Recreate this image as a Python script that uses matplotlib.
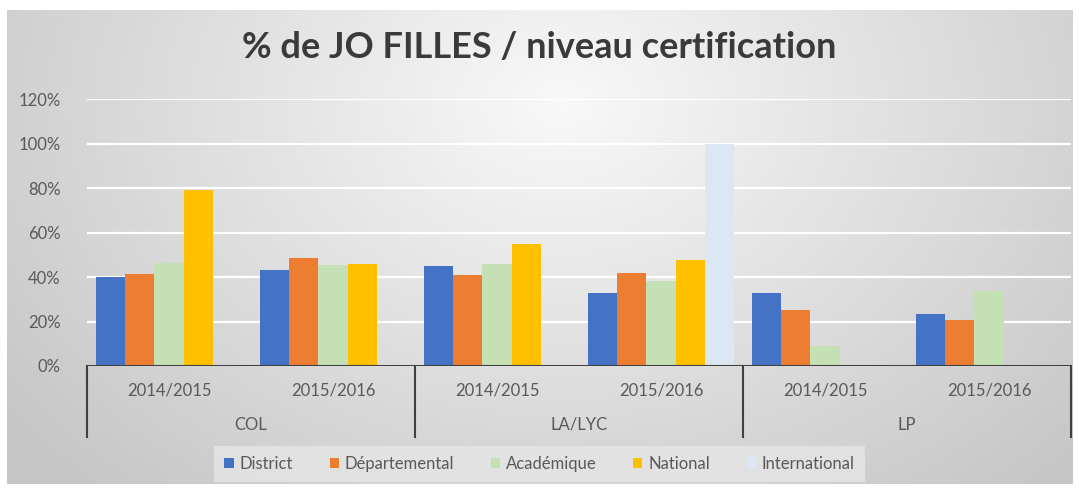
import numpy as np
import matplotlib.pyplot as plt

plt.rcParams['font.family'] = ['Lato', 'DejaVu Sans']

groups = ['COL', 'LA/LYC', 'LP']
years = ['2014/2015', '2015/2016']
series = ['District', 'Départemental', 'Académique', 'National', 'International']
colors = ['#4472c4', '#ed7d31', '#c5e0b4', '#ffc000', '#dce7f4']

# one value per (group, year) in order COL14, COL15, LA14, LA15, LP14, LP15
district = [0.40, 0.43, 0.45, 0.33, 0.33, 0.235]
departemental = [0.415, 0.485, 0.41, 0.42, 0.25, 0.205]
academique = [0.465, 0.455, 0.46, 0.38, 0.09, 0.335]
national = [0.79, 0.46, 0.55, 0.475, 0, 0]
international = [0, 0, 0, 1.0, 0, 0]
values = [district, departemental, academique, national, international]

W, H = 1079, 490
fig = plt.figure(figsize=(W / 100, H / 100), dpi=100)

# radial grey gradient behind the chart
bg = fig.add_axes([7 / W, 6 / H, 1066 / W, 474 / H])
yy, xx = np.mgrid[0:1:200j, 0:1:400j]
r = np.sqrt(((xx - 0.52) / 0.6) ** 2 + ((yy - 0.8) / 1.0) ** 2)
g = np.clip(0.975 - 0.18 * np.clip(r, 0, 1.1), 0, 1)
bg.imshow(np.dstack([g, g, g]), aspect='auto', extent=[0, 1, 0, 1], origin='lower')
bg.axis('off')

ax = fig.add_axes([87 / W, 1 - 366 / H, (1071 - 87) / W, (366 - 99) / H])
ax.set_facecolor('none')
n = len(district)
x = np.arange(n)
bw = 0.177
for i, (name, vals, c) in enumerate(zip(series, values, colors)):
    ax.bar(x + (i - 2) * bw, vals, width=bw, color=c, label=name, zorder=3)

ax.set_xlim(-0.5, n - 0.5)
ax.set_ylim(0, 1.2)
ax.set_yticks(np.arange(0, 1.21, 0.2))
ax.set_yticklabels([f'{int(round(v * 100))}%' for v in np.arange(0, 1.21, 0.2)],
                   color='#595959', fontsize=12)
ax.tick_params(axis='y', length=0, pad=19)
ax.set_xticks([])
ax.grid(axis='y', color='white', linewidth=1.6, zorder=0)
for s in ax.spines.values():
    s.set_visible(False)

# category axis (two levels)
ax.axhline(0, color='#404040', linewidth=1.5, zorder=4)
for sep in [-0.5, 1.5, 3.5, 5.5]:
    ax.plot([sep, sep], [0, -0.32], color='#404040', linewidth=1.5, clip_on=False)
for xi in x:
    ax.text(xi, -0.11, years[xi % 2], ha='center', va='center', color='#595959', fontsize=12)
for gi, grp in enumerate(groups):
    ax.text(2 * gi + 0.5, -0.265, grp, ha='center', va='center', color='#595959', fontsize=12)

fig.text(0.5, 1 - 48 / H, '% de JO FILLES / niveau certification', ha='center', va='center',
         fontsize=26, fontweight='bold', color='#3a3a3a')

leg = fig.legend(loc='center', bbox_to_anchor=(0.5, 1 - 464 / H), ncol=5, frameon=True,
                 fontsize=12, handlelength=0.55, handleheight=0.55, handletextpad=0.35,
                 columnspacing=2.2, borderpad=0.6)
leg.get_frame().set_facecolor('#e6e6e6')
leg.get_frame().set_edgecolor('none')
leg.get_frame().set_alpha(0.8)
leg.get_frame().set_boxstyle('square', pad=0)
for t in leg.get_texts():
    t.set_color('#595959')

fig.savefig('out.png', dpi=100)
